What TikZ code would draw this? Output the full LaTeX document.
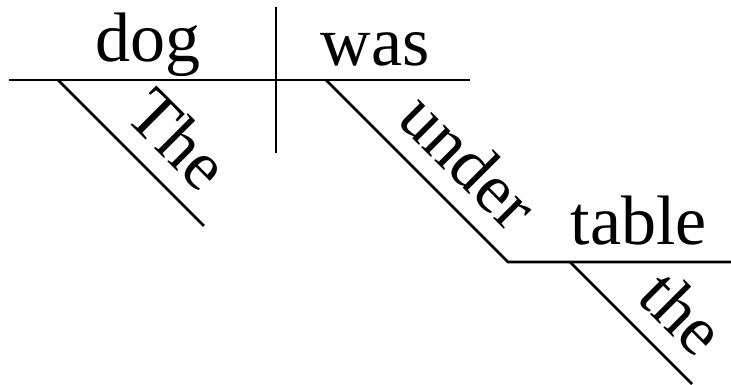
\documentclass[tikz,border=0pt]{standalone}
\usepackage{fontspec}
\setmainfont{Liberation Serif}
\begin{document}
\begin{tikzpicture}[x=1pt,y=1pt,line join=miter,
  rule/.style={line width=2.8pt},
  word/.style={font=\fontsize{70}{84}\selectfont,inner sep=0pt,anchor=base},
  modifier/.style={font=\fontsize{70}{84}\selectfont,inner sep=0pt,sloped,above=18pt}]
  \useasboundingbox (0,0) rectangle (731,385);

  % Subject/predicate line with the divider.
  \coordinate (mainL) at (9,305);
  \coordinate (mainR) at (470,305);
  \coordinate (divT) at (276,378);
  \coordinate (divB) at (276,232);
  \draw[rule] (mainL) -- (mainR);
  \draw[rule] (divT) -- (divB);
  \node[word] (dog) at (148,323) {dog};
  \node[word] (was) at (375,319) {was};

  % Article hanging off the subject.
  \coordinate (artTop) at (58,305);
  \coordinate (artEnd) at (204,159);
  \draw[rule] (artTop) -- node[modifier,pos=0.615] (The) {The} (artEnd);

  % Prepositional phrase under the verb.
  \coordinate (prepTop) at (326,305);
  \coordinate (prepBend) at (508,123);
  \coordinate (objR) at (731,123);
  \draw[rule] (prepTop) -- node[modifier,pos=0.615] (under) {under} (prepBend) -- (objR);
  \node[word] (table) at (639,140) {table};

  % Article of the object.
  \coordinate (objArt) at (570,123);
  \coordinate (objArtEnd) at (692,1);
  \draw[rule] (objArt) -- node[modifier,pos=0.67] (the) {the} (objArtEnd);
\end{tikzpicture}
\end{document}
